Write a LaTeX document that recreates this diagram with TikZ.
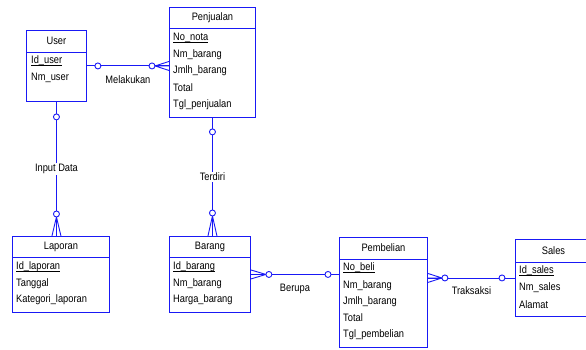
\documentclass[tikz,border=0pt]{standalone}
\usepackage{fontspec}
\setmainfont{Liberation Sans}[FakeStretch=0.86]
\usetikzlibrary{calc}
\definecolor{erblue}{RGB}{25,25,245}

% key attribute: underline close to the baseline
\newcommand{\keyattr}[1]{\setbox0\hbox{#1}\rlap{\rule[-1.7pt]{\wd0}{0.6pt}}\box0}

% crow's foot at entity end #1, line coming from #2, apex #3 away
\newcommand{\crowfoot}[3]{%
  \draw[link] ($(#1)!#3!(#2)$) -- ($(#1)!4.5pt!90:(#2)$)
              ($(#1)!#3!(#2)$) -- (#1)
              ($(#1)!#3!(#2)$) -- ($(#1)!4.5pt!-90:(#2)$);}

\begin{document}
\begin{tikzpicture}[
        x=1pt, y=-1pt,
        font=\fontsize{10.8}{12}\selectfont,
        link/.style={draw=erblue, line width=0.9pt},
        entity/.style={rectangle, draw=erblue, line width=0.9pt, anchor=north west, inner sep=0pt},
        title/.style={inner sep=0pt},
        attr/.style={anchor=west, inner sep=0pt},
        ocirc/.style={circle, draw=erblue, line width=0.9pt, fill=white, inner sep=0pt, minimum size=6pt},
        lbl/.style={inner sep=1pt, fill=white}
    ]
        \useasboundingbox (0,0) rectangle (586,350);

        % Entities
        \node[entity, minimum width=60pt, minimum height=71pt] (user) at (26,30) {};
        \draw[link] ($(user.north west)+(0,22)$) -- ($(user.north east)+(0,22)$);
        \node[title] (user-t) at ($(user.north)+(0,11)$) {User};
        \node[attr] (user-a1) at (31,61) {\keyattr{Id\_user}};
        \node[attr] (user-a2) at (31,78) {Nm\_user};

        \node[entity, minimum width=86pt, minimum height=110pt] (penjualan) at (169,7) {};
        \draw[link] ($(penjualan.north west)+(0,21)$) -- ($(penjualan.north east)+(0,21)$);
        \node[title] (penjualan-t) at ($(penjualan.north)+(0,10.5)$) {Penjualan};
        \node[attr] (penjualan-a1) at (173,38) {\keyattr{No\_nota}};
        \node[attr] (penjualan-a2) at (173,54.5) {Nm\_barang};
        \node[attr] (penjualan-a3) at (173,71) {Jmlh\_barang};
        \node[attr] (penjualan-a4) at (173,88) {Total};
        \node[attr] (penjualan-a5) at (173,105) {Tgl\_penjualan};

        \node[entity, minimum width=97pt, minimum height=76pt] (laporan) at (12,236) {};
        \draw[link] ($(laporan.north west)+(0,21)$) -- ($(laporan.north east)+(0,21)$);
        \node[title] (laporan-t) at ($(laporan.north)+(0,10.5)$) {Laporan};
        \node[attr] (laporan-a1) at (16,267) {\keyattr{Id\_laporan}};
        \node[attr] (laporan-a2) at (16,284) {Tanggal};
        \node[attr] (laporan-a3) at (16,300) {Kategori\_laporan};

        \node[entity, minimum width=81pt, minimum height=76pt] (barang) at (169,236) {};
        \draw[link] ($(barang.north west)+(0,21)$) -- ($(barang.north east)+(0,21)$);
        \node[title] (barang-t) at ($(barang.north)+(0,10.5)$) {Barang};
        \node[attr] (barang-a1) at (173,267) {\keyattr{Id\_barang}};
        \node[attr] (barang-a2) at (173,284) {Nm\_barang};
        \node[attr] (barang-a3) at (173,300) {Harga\_barang};

        \node[entity, minimum width=88pt, minimum height=110pt] (pembelian) at (339,237) {};
        \draw[link] ($(pembelian.north west)+(0,22)$) -- ($(pembelian.north east)+(0,22)$);
        \node[title] (pembelian-t) at ($(pembelian.north)+(0,11)$) {Pembelian};
        \node[attr] (pembelian-a1) at (343,268) {\keyattr{No\_beli}};
        \node[attr] (pembelian-a2) at (343,285.5) {Nm\_barang};
        \node[attr] (pembelian-a3) at (343,302) {Jmlh\_barang};
        \node[attr] (pembelian-a4) at (343,318) {Total};
        \node[attr] (pembelian-a5) at (343,335) {Tgl\_pembelian};

        \node[entity, minimum width=76pt, minimum height=77pt] (sales) at (515,239) {};
        \draw[link] ($(sales.north west)+(0,23)$) -- ($(sales.north east)+(0,23)$);
        \node[title] (sales-t) at ($(sales.north)+(0,11.5)$) {Sales};
        \node[attr] (sales-a1) at (519,271) {\keyattr{Id\_sales}};
        \node[attr] (sales-a2) at (519,288) {Nm\_sales};
        \node[attr] (sales-a3) at (519,305) {Alamat};

        % Relationships
        \coordinate (pj-in) at (user.east -| penjualan.west);
        \draw[link] (user.east) -- (pj-in) node[midway, yshift=-13.5pt, inner sep=0pt] (melakukan) {Melakukan};
        \crowfoot{pj-in}{user.east}{14pt}
        \node[ocirc] (c1a) at ($(user.east)!11pt!(pj-in)$) {};
        \node[ocirc] (c1b) at ($(pj-in)!17pt!(user.east)$) {};

        \coordinate (lp-in) at (user.south |- laporan.north);
        \draw[link] (user.south) -- (lp-in) node[lbl, midway] (input) {Input Data};
        \crowfoot{lp-in}{user.south}{19pt}
        \node[ocirc] (c2a) at ($(user.south)!15pt!(lp-in)$) {};
        \node[ocirc] (c2b) at ($(lp-in)!22pt!(user.south)$) {};

        \coordinate (br-in) at (penjualan.south |- barang.north);
        \draw[link] (penjualan.south) -- (br-in) node[lbl, midway] (terdiri) {Terdiri};
        \crowfoot{br-in}{penjualan.south}{20pt}
        \node[ocirc] (c3a) at ($(penjualan.south)!14pt!(br-in)$) {};
        \node[ocirc] (c3b) at ($(br-in)!23pt!(penjualan.south)$) {};

        \coordinate (pb-in) at (barang.east -| pembelian.west);
        \draw[link] (barang.east) -- (pb-in) node[midway, yshift=-14pt, inner sep=0pt] (berupa) {Berupa};
        \crowfoot{barang.east}{pb-in}{15pt}
        \node[ocirc] (c4a) at ($(barang.east)!18pt!(pb-in)$) {};
        \node[ocirc] (c4b) at ($(pb-in)!11pt!(barang.east)$) {};

        \coordinate (pb-out) at (sales.west -| pembelian.east);
        \draw[link] (pb-out) -- (sales.west) node[midway, yshift=-13pt, inner sep=0pt] (traksaksi) {Traksaksi};
        \crowfoot{pb-out}{sales.west}{14pt}
        \node[ocirc] (c5a) at ($(pb-out)!17pt!(sales.west)$) {};
        \node[ocirc] (c5b) at ($(sales.west)!13pt!(pb-out)$) {};

    \end{tikzpicture}
\end{document}
